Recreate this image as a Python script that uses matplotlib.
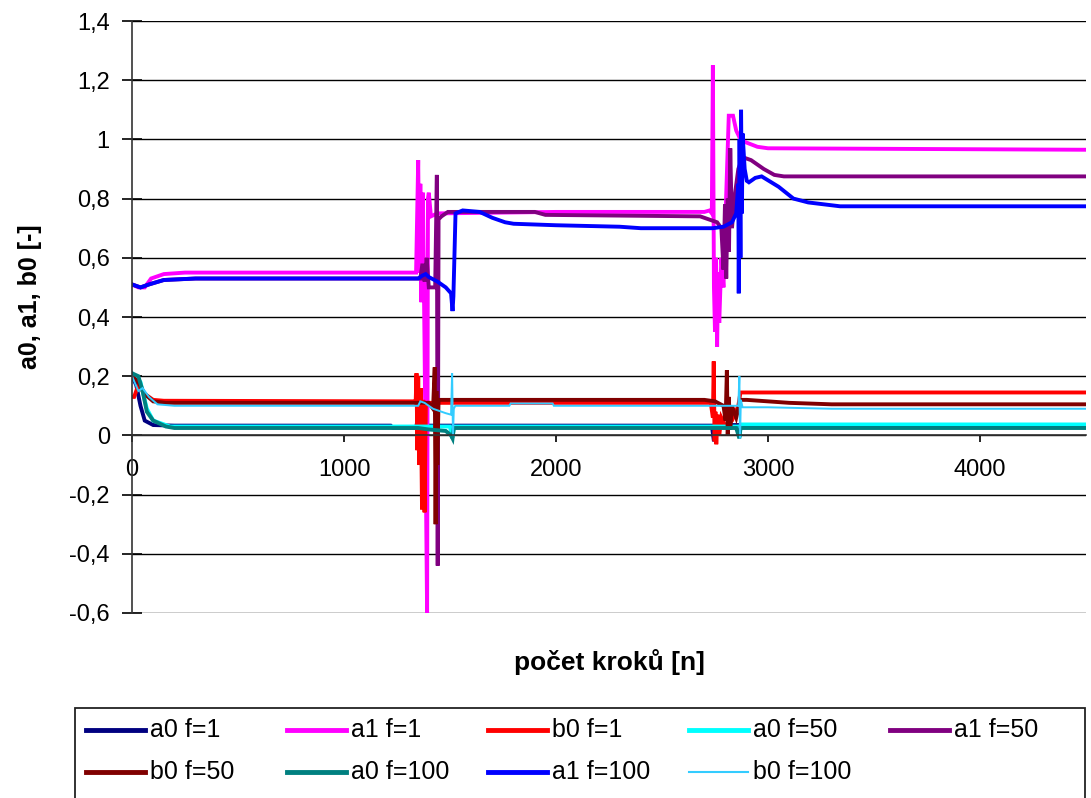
import matplotlib
matplotlib.use("Agg")
import matplotlib.pyplot as plt
from matplotlib.lines import Line2D
from matplotlib.patches import Rectangle
from matplotlib.ticker import FuncFormatter

plt.rcParams['font.family'] = ['Liberation Sans', 'DejaVu Sans']

# --- data (x = number of steps) ---
a0_f1_x = [0, 20, 40, 60, 100, 200, 1220, 1230, 1340, 1345, 1352, 1360, 2735, 2745, 2755, 4500]
a0_f1_y = [0.20, 0.17, 0.10, 0.05, 0.035, 0.033, 0.033, 0.026, 0.026, 0.045, 0.03, 0.033, 0.033, -0.02, 0.035, 0.035]

a1_f1_x = [0, 30, 60, 90, 150, 250, 1340, 1350, 1355, 1360, 1365, 1372, 1380, 1392, 1396, 1400, 1410,
           1440, 2000, 2700, 2725, 2735, 2740, 2745, 2750, 2755, 2760, 2765, 2770, 2780, 2790, 2800,
           2815, 2835, 2850, 2870, 2896, 2950, 3000, 4500]
a1_f1_y = [0.51, 0.50, 0.50, 0.53, 0.545, 0.55, 0.55, 0.93, 0.55, 0.85, 0.45, 0.82, 0.30, -0.60, 0.80, 0.82, 0.74,
           0.75, 0.755, 0.755, 0.76, 0.75, 1.25, 0.50, 0.35, 0.60, 0.30, 0.55, 0.38, 0.60, 0.50, 0.75,
           1.08, 1.08, 1.03, 1.00, 0.99, 0.975, 0.97, 0.965]

b0_f1_x = [0, 10, 30, 60, 100, 150, 1330, 1338, 1342, 1346, 1350, 1355, 1362, 1368, 1374, 1380, 1386, 1395,
           2730, 2740, 2744, 2748, 2752, 2756, 2762, 2770, 2780, 2800, 2830, 2860, 2870, 4500]
b0_f1_y = [0.13, 0.13, 0.17, 0.14, 0.12, 0.117, 0.115, 0.11, 0.21, -0.05, 0.20, -0.10, 0.16, -0.25, 0.12, -0.26, 0.10, 0.11,
           0.11, 0.06, 0.25, -0.02, 0.08, -0.03, 0.07, 0.0, 0.06, 0.03, 0.05, 0.10, 0.145, 0.145]

a0_f50_x = [0, 40, 70, 100, 180, 1500, 1510, 1520, 2860, 2866, 2872, 4500]
a0_f50_y = [0.21, 0.18, 0.09, 0.05, 0.03, 0.03, -0.01, 0.03, 0.03, -0.005, 0.037, 0.037]

a1_f50_x = [0, 40, 80, 150, 300, 1360, 1370, 1380, 1390, 1400, 1430, 1438, 1442, 1446, 1460, 1490, 1900, 1950,
            2680, 2720, 2760, 2780, 2790, 2797, 2803, 2810, 2816, 2822, 2830, 2845, 2860, 2880, 2920, 2980,
            3030, 3075, 4500]
a1_f50_y = [0.51, 0.50, 0.51, 0.525, 0.53, 0.53, 0.58, 0.52, 0.60, 0.50, 0.50, 0.88, -0.44, 0.73, 0.74, 0.755, 0.755, 0.745,
            0.74, 0.73, 0.72, 0.70, 0.56, 0.78, 0.53, 0.80, 0.62, 0.97, 0.70, 0.82, 0.90, 0.94, 0.93, 0.90,
            0.88, 0.875, 0.875]

b0_f50_x = [0, 30, 60, 100, 160, 1400, 1420, 1428, 1432, 1436, 1440, 1446, 1460, 2700, 2750, 2790, 2800,
            2806, 2810, 2815, 2822, 2830, 2850, 2870, 2900, 3100, 3300, 4500]
b0_f50_y = [0.20, 0.18, 0.14, 0.115, 0.11, 0.11, 0.09, 0.23, -0.30, 0.15, -0.10, 0.12, 0.12, 0.12, 0.115, 0.10, 0.05,
            0.22, 0.0, 0.13, 0.02, 0.10, 0.06, 0.12, 0.12, 0.11, 0.105, 0.105]

a0_f100_x = [0, 30, 50, 70, 100, 160, 200, 1350, 1400, 1480, 1505, 1512, 1518, 2850, 2865, 2870, 4500]
a0_f100_y = [0.21, 0.20, 0.15, 0.08, 0.05, 0.03, 0.025, 0.025, 0.02, 0.015, 0.0, -0.01, 0.025, 0.025, -0.01, 0.025, 0.025]

a1_f100_x = [0, 40, 80, 150, 300, 1350, 1370, 1385, 1400, 1440, 1480, 1505, 1512, 1516, 1520, 1526, 1560,
             1640, 1700, 1760, 1800, 2000, 2300, 2400, 2740, 2790, 2830, 2850, 2860, 2862, 2866, 2870,
             2873, 2877, 2880, 2890, 2900, 2910, 2940, 2970, 3050, 3120, 3190, 3340, 4500]
a1_f100_y = [0.51, 0.50, 0.51, 0.525, 0.53, 0.53, 0.54, 0.545, 0.535, 0.52, 0.50, 0.48, 0.42, 0.47, 0.58, 0.75, 0.76,
             0.755, 0.735, 0.72, 0.715, 0.71, 0.705, 0.70, 0.70, 0.705, 0.72, 0.75, 0.85, 0.48, 1.00, 0.60,
             1.10, 0.75, 1.02, 0.90, 0.86, 0.855, 0.87, 0.875, 0.84, 0.80, 0.787, 0.774, 0.774]

b0_f100_x = [0, 30, 50, 80, 120, 200, 1350, 1360, 1380, 1420, 1480, 1505, 1510, 1514, 1518, 1525, 1780, 1786,
             1984, 1990, 2860, 2865, 2868, 2872, 2880, 3000, 3300, 4500]
b0_f100_y = [0.20, 0.15, 0.16, 0.13, 0.105, 0.10, 0.10, 0.115, 0.11, 0.09, 0.075, 0.07, 0.21, 0.0, 0.09, 0.10, 0.10, 0.108,
             0.108, 0.10, 0.10, 0.20, -0.01, 0.12, 0.095, 0.095, 0.09, 0.09]

series = [
    ("a0 f=1", a0_f1_x, a0_f1_y, "#000080", 2.8),
    ("a1 f=1", a1_f1_x, a1_f1_y, "#FF00FF", 2.8),
    ("b0 f=1", b0_f1_x, b0_f1_y, "#FF0000", 2.8),
    ("a0 f=50", a0_f50_x, a0_f50_y, "#00FFFF", 2.8),
    ("a1 f=50", a1_f50_x, a1_f50_y, "#800080", 2.8),
    ("b0 f=50", b0_f50_x, b0_f50_y, "#800000", 2.8),
    ("a0 f=100", a0_f100_x, a0_f100_y, "#008080", 2.8),
    ("a1 f=100", a1_f100_x, a1_f100_y, "#0000FF", 2.8),
    ("b0 f=100", b0_f100_x, b0_f100_y, "#33CCFF", 1.4),
]

W, H = 1091, 798
fig = plt.figure(figsize=(W / 100, H / 100), dpi=100)
ax = fig.add_axes([132 / W, 1 - 613 / H, (1086 - 132) / W, (613 - 21) / H])

for lab, xs, ys, col, lw in series:
    ax.plot(xs, ys, color=col, lw=lw, label=lab, solid_joinstyle='miter')

ax.set_xlim(0, 4500)
ax.set_ylim(-0.6, 1.4)
ax.set_yticks([-0.6, -0.4, -0.2, 0, 0.2, 0.4, 0.6, 0.8, 1.0, 1.2, 1.4])
ax.set_xticks([0, 1000, 2000, 3000, 4000])
ax.yaxis.set_major_formatter(FuncFormatter(lambda v, p: ('%g' % round(v, 1)).replace('.', ',')))
ax.grid(axis='y', color='black', lw=1.0)
ax.set_axisbelow(True)

for s in ['top', 'right']:
    ax.spines[s].set_visible(False)
ax.spines['bottom'].set_position(('data', 0))
ax.spines['bottom'].set_color('#333333')
ax.spines['bottom'].set_linewidth(1.2)
ax.spines['left'].set_linewidth(1.2)
ax.spines['left'].set_color('#333333')
ax.tick_params(axis='y', direction='inout', length=14, width=1.2, labelsize=17, pad=9)
ax.tick_params(axis='x', direction='out', length=5, width=1.2, labelsize=17, pad=12)

fig.text(609 / W, 1 - 662 / H, 'počet kroků [n]', ha='center', va='center',
         fontsize=19, fontweight='bold')
fig.text(30 / W, 1 - 297 / H, 'a0, a1, b0 [-]', ha='center', va='center',
         rotation=90, fontsize=18, fontweight='bold')

# legend box like Excel: fixed column pitch, filled row by row, bottom edge cut off
fig.add_artist(Rectangle((75 / W, -0.02), 1010 / W, 0.02 + 1 - 708 / H, transform=fig.transFigure,
                         facecolor='white', edgecolor='#222222', lw=1.3))
for i, (lab, xs, ys, col, lw) in enumerate(series):
    r, c = divmod(i, 5)
    x0 = 86 + 201 * c
    yc = 1 - (730 + 42 * r) / H
    fig.add_artist(Line2D([x0 / W, (x0 + 59) / W], [yc, yc], transform=fig.transFigure,
                          color=col, lw=3.5 if lw > 2 else 1.5))
    fig.text((x0 + 64) / W, yc, lab, ha='left', va='center', fontsize=18)

fig.savefig('out.png', dpi=100)
